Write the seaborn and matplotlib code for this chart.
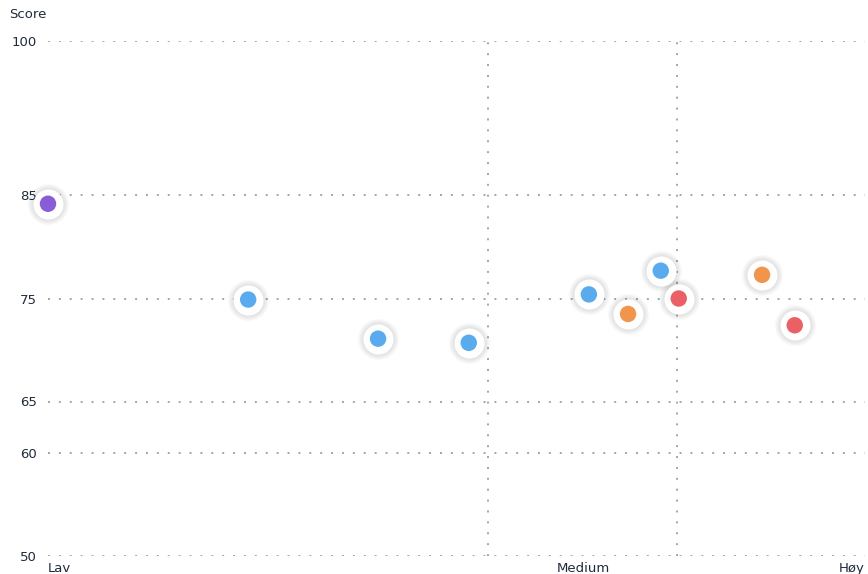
import pandas as pd
import matplotlib.pyplot as plt
import seaborn as sns

# Data
x_vals = [0.0, 24.5, 40.4, 51.5, 66.2, 71.0, 75.0, 77.2, 87.4, 91.4]
scores = [84.2, 74.9, 71.1, 70.7, 75.4, 73.5, 77.7, 75.0, 77.3, 72.4]
groups = ["A", "B", "B", "B", "B", "C", "B", "D", "C", "D"]
group_colors = {"A": "#8A5CD8", "B": "#5AAAEE", "C": "#F0954B", "D": "#EB5F67"}

y_ticks = [50, 60, 65, 75, 85, 100]
x_tick_pos = [0, 65.5, 100]
x_tick_labels = ["Lav", "Medium", "Høy"]
v_lines = [53.9, 77.0]

data = pd.DataFrame({"x": x_vals, "score": scores, "group": groups})

sns.set_style("white")
plt.rcParams["font.family"] = ["DejaVu Sans"]

fig = plt.figure(figsize=(8.68, 5.74), dpi=100)
ax = fig.add_axes([48 / 868, 18 / 574, 817 / 868, 515 / 574])

# Dotted grid
grid_style = dict(color="#9ea6b4", linewidth=1.4, linestyle=(0, (1, 4.6)), zorder=1)
for y in y_ticks:
    ax.axhline(y, **grid_style)
for x in v_lines:
    ax.axvline(x, **grid_style)

# Soft blurred shadow + white halo under each point
for i in range(10):
    size = 900 - i * 45
    ax.scatter(data["x"], data["score"], s=size, color="#000000", alpha=0.012,
               linewidths=0, zorder=3, clip_on=False)
ax.scatter(data["x"], data["score"], s=470, color="white", linewidths=0,
           zorder=4, clip_on=False)

sns.scatterplot(data=data, x="x", y="score", hue="group", palette=group_colors,
                s=140, linewidth=0, legend=False, zorder=5, clip_on=False, ax=ax)

ax.set_xlim(0, 100)
ax.set_ylim(50, 100)
ax.set_yticks(y_ticks)
ax.set_yticklabels([str(t) for t in y_ticks], fontsize=9.5, color="#1f2a3a")
ax.tick_params(axis="y", length=0, pad=8)
ax.set_xticks(x_tick_pos)
ax.set_xticklabels(x_tick_labels, fontsize=9.5, color="#1f2a3a")
ax.tick_params(axis="x", length=0, pad=4)
labels = ax.get_xticklabels()
labels[0].set_ha("left")
labels[2].set_ha("right")

ax.set_xlabel("")
ax.set_ylabel("")
fig.text(9 / 868, 1 - 14 / 574, "Score", fontsize=9.5, color="#1f2a3a", va="center", ha="left")

for side in ["top", "right", "bottom", "left"]:
    ax.spines[side].set_visible(False)

fig.savefig("out.png", dpi=100)
